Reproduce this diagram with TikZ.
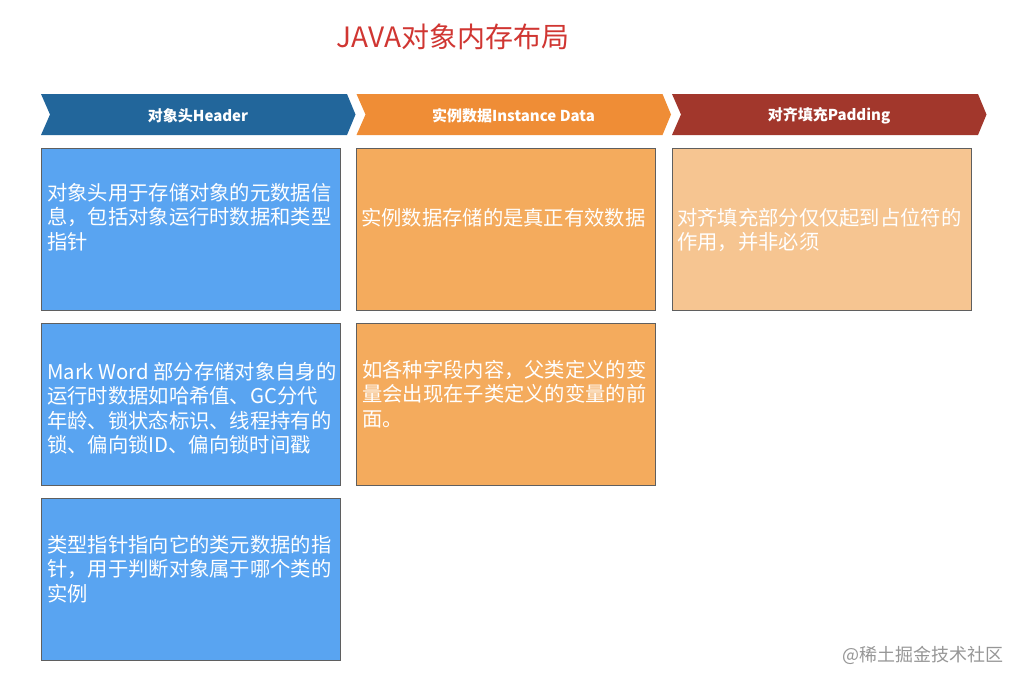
\documentclass[tikz,border=0pt]{standalone}
\usepackage{fontspec}
\setmainfont{Noto Sans CJK SC}
\usepackage{xcolor}
\definecolor{hdrblue}{RGB}{34,102,155}
\definecolor{insorange}{RGB}{239,141,54}
\definecolor{padred}{RGB}{162,55,44}
\definecolor{boxblue}{RGB}{89,164,241}
\definecolor{boxorange}{RGB}{244,171,93}
\definecolor{boxpad}{RGB}{246,197,145}
\definecolor{titlered}{RGB}{208,54,50}

\begin{document}
\begin{tikzpicture}[x=1pt, y=-1pt,
  box/.style={draw={rgb,255:red,95;green,95;blue,95}, line width=0.9pt, anchor=north west,
    minimum width=299pt, minimum height=162pt, inner sep=0pt},
  txt/.style={anchor=north west, inner sep=0pt, align=left, text=white,
    font=\fontsize{20.3}{24.5}\selectfont},
  chev/.style={text=white, font=\fontsize{15}{17}\selectfont\bfseries}]
  \useasboundingbox (0,0) rectangle (1025,686);
  \node[text=titlered, font=\fontsize{28}{31}\selectfont] (title) at (453,37) {JAVA对象内存布局};
  % chevrons
  \foreach \x/\c/\n/\t in {41/hdrblue/hd/对象头Header, 356.5/insorange/ins/实例数据Instance Data, 672/padred/pad/对齐填充Padding} {
    \fill[\c] (\x,94) -- ++(306,0) -- ++(8.5,20.5) -- ++(-8.5,20.5) -- ++(-306,0) -- ++(9,-20.5) -- cycle;
    \node[chev] (\n) at (\x+157,115.5) {\t};
  }
  % boxes
  \node[box, fill=boxblue] (h1) at (41,148) {};
  \node[box, fill=boxblue] (h2) at (41,323) {};
  \node[box, fill=boxblue] (h3) at (41,498) {};
  \node[box, fill=boxorange] (d1) at (356,148) {};
  \node[box, fill=boxorange] (d2) at (356,323) {};
  \node[box, fill=boxpad] (p1) at (672,148) {};
  \node[txt] (h1t) at (47,183) {对象头用于存储对象的元数据信\\息，包括对象运行时数据和类型\\指针};
  \node[txt] (h2t) at (47,362) {Mark Word 部分存储对象自身的\\运行时数据如哈希值、GC分代\\年龄、锁状态标识、线程持有的\\锁、偏向锁ID、偏向锁时间戳};
  \node[txt] (h3t) at (47,535) {类型指针指向它的类元数据的指\\针，用于判断对象属于哪个类的\\实例};
  \node[txt] (d1t) at (361,208) {实例数据存储的是真正有效数据};
  \node[txt] (d2t) at (362,360) {如各种字段内容，父类定义的变\\量会出现在子类定义的变量的前\\面。};
  \node[txt] (p1t) at (677,208) {对齐填充部分仅仅起到占位符的\\作用，并非必须};
  \node[text={rgb,255:red,150;green,150;blue,150}, font=\fontsize{18}{20}\selectfont] (mark) at (923,655) {@稀土掘金技术社区};
\end{tikzpicture}
\end{document}
